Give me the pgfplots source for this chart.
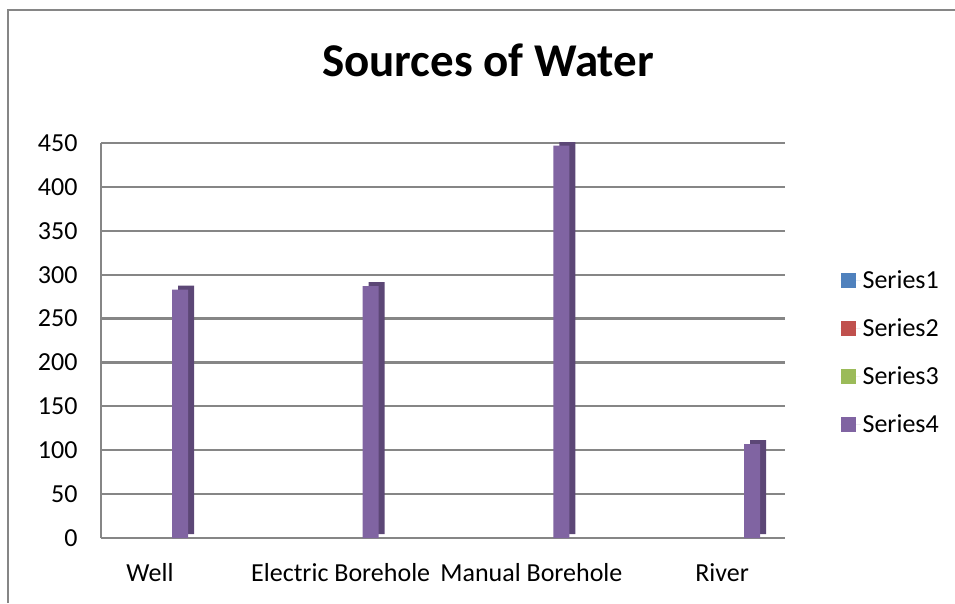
\documentclass[border=0pt]{standalone}
\usepackage{pgfplots}
\pgfplotsset{compat=1.18}
\usepackage{fontspec}
\setmainfont{Carlito}
\definecolor{s1}{HTML}{4F81BD}
\definecolor{s2}{HTML}{C0504D}
\definecolor{s3}{HTML}{9BBB59}
\definecolor{s4}{HTML}{8064A2}
\definecolor{s4d}{HTML}{5C4776}
\definecolor{gridc}{HTML}{868686}
\begin{document}
\begin{tikzpicture}[x=1pt,y=1pt]
\useasboundingbox (0,0) rectangle (955,603);
\draw[gridc, line width=2pt] (8,0) -- (8,593) -- (955,593);
\begin{axis}[
  at={(101pt,65pt)}, anchor=south west,
  scale only axis, width=684pt, height=395pt,
  xmin=-0.257, xmax=3.33, ymin=0, ymax=450,
  xtick={0,1,2,3},
  xticklabels={Well, Electric Borehole, Manual Borehole, River},
  ytick={0,50,...,450},
  ymajorgrids,
  major grid style={gridc, line width=2.2pt},
  axis x line*=bottom, axis y line*=left,
  axis line style={-, gridc, line width=1.6pt},
  tick style={draw=none},
  /pgf/number format/assume math mode=true,
  ticklabel style={font=\fontsize{26}{30}\selectfont},
  xticklabel style={yshift=-22pt},
  yticklabel style={xshift=-20pt},
  legend style={at={(1.081,0.682)}, anchor=north west, draw=none, fill=none,
    font=\fontsize{26}{30}\selectfont, row sep=24.5pt, inner sep=0pt},
  legend cell align=left,
  legend image code/.code={\fill[#1] (0pt,-7.5pt) rectangle (15pt,7.5pt); \path (0pt,0pt) -- (20pt,0pt);},
]
\addlegendimage{fill=s1, draw=none}
\addlegendentry{Series1}
\addlegendimage{fill=s2, draw=none}
\addlegendentry{Series2}
\addlegendimage{fill=s3, draw=none}
\addlegendentry{Series3}
\addplot[ybar, bar width=16pt, bar shift=36pt, fill=s4d, draw=none, yshift=4pt, forget plot]
  coordinates {(0,283) (1,287) (2,447) (3,107)};
\addplot[ybar, bar width=16pt, bar shift=30pt, fill=s4, draw=none]
  coordinates {(0,283) (1,287) (2,447) (3,107)};
\addlegendentry{Series4}
\end{axis}
\node[font=\fontsize{47}{52}\selectfont\bfseries] at (488,543) {Sources of Water};
\end{tikzpicture}
\end{document}
